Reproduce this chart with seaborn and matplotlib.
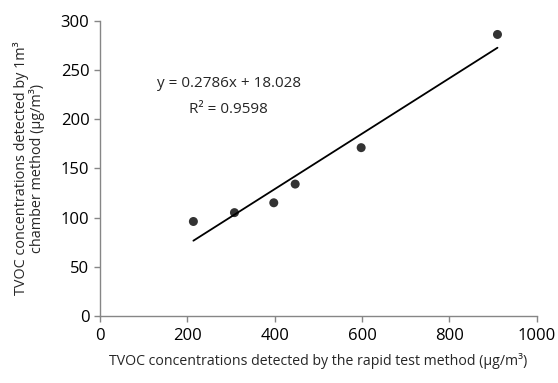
import matplotlib
matplotlib.use("Agg")
import matplotlib.pyplot as plt
import seaborn as sns
import pandas as pd

rapid_x = [214, 308, 398, 447, 598, 910]
chamber_y = [96, 105, 115, 134, 171, 286]
x_ticks = [0, 200, 400, 600, 800, 1000]
y_ticks = [0, 50, 100, 150, 200, 250, 300]
eq_text = "y = 0.2786x + 18.028"
r2_text = "R² = 0.9598"
x_label = "TVOC concentrations detected by the rapid test method (µg/m³)"
y_label = "TVOC concentrations detected by 1m³\nchamber method (µg/m³)"

df = pd.DataFrame({"x": rapid_x, "y": chamber_y})

sns.set_style("white")
plt.rcParams['font.family'] = ['Open Sans', 'DejaVu Sans']

fig = plt.figure(figsize=(5.58, 3.83), dpi=100)
ax = fig.add_axes([0.179, 0.175, 0.783, 0.771])

sns.regplot(data=df, x="x", y="y", ax=ax, ci=None, color="black",
            scatter_kws={"s": 42, "edgecolor": "none", "zorder": 3},
            line_kws={"linewidth": 1.3})

ax.set_xlim(0, 1000)
ax.set_ylim(0, 300)
ax.set_xticks(x_ticks)
ax.set_yticks(y_ticks)
ax.tick_params(axis="both", labelsize=12, colors="#868686", labelcolor="black",
               direction="out", length=4, width=1, bottom=True, left=True)
ax.tick_params(axis="x", pad=5)
for s in ["top", "right"]:
    ax.spines[s].set_visible(False)
for s in ["left", "bottom"]:
    ax.spines[s].set_color("#868686")
    ax.spines[s].set_linewidth(1)

ax.set_xlabel(x_label, fontsize=10.2, labelpad=6)
ax.set_ylabel(y_label, fontsize=10.4, labelpad=11, linespacing=1.0)

ax.text(0.295, 0.787, eq_text, transform=ax.transAxes, ha="center", va="center", fontsize=11)
ax.text(0.295, 0.699, r2_text, transform=ax.transAxes, ha="center", va="center", fontsize=11)

fig.savefig("out.png", dpi=100)
